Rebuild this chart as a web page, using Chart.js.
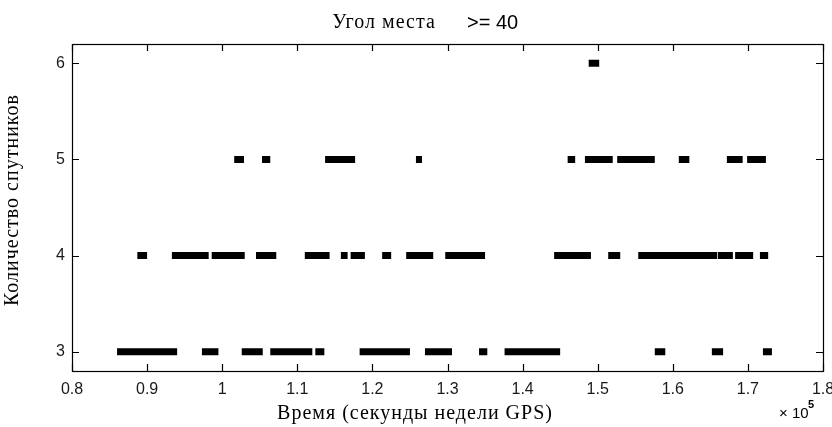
<!DOCTYPE html>
<html>
<head>
<meta charset="utf-8">
<script src="https://cdn.jsdelivr.net/npm/chart.js@4/dist/chart.umd.min.js"></script>
<style>
html,body{margin:0;padding:0;background:#fff;}
canvas{display:block;}
</style>
</head>
<body>
<canvas id="c" width="832" height="427"></canvas>
<script>
// Tick values / labels
const xTickValues = [80000, 90000, 100000, 110000, 120000, 130000, 140000, 150000, 160000, 170000, 180000];
const xTickLabels = ['0.8', '0.9', '1', '1.1', '1.2', '1.3', '1.4', '1.5', '1.6', '1.7', '1.8'];
const yTickValues = [3, 4, 5, 6];
const yTickLabels = ['3', '4', '5', '6'];

// Runs of observations (GPS week seconds) for each satellite count
const level3Start = [86000, 97300, 102600, 106400, 112400, 118300, 127000, 134200, 137600, 157600, 165200, 172000];
const level3End   = [94000, 99500, 105400, 112000, 113600, 125000, 130600, 135300, 145000, 159000, 166700, 173200];

const level4Start = [88700, 93300, 98600, 104500, 111000, 115800, 117100, 121300, 124500, 129700, 144200, 151400, 155400, 166000, 168300, 171600];
const level4End   = [90000, 98200, 103000, 107200, 114300, 116700, 119000, 122500, 128100, 135000, 149100, 153000, 165900, 168000, 170700, 172700];

const level5Start = [101600, 105300, 113700, 125800, 146000, 148300, 152600, 160800, 167200, 169900];
const level5End   = [102900, 106400, 117700, 126600, 147000, 152000, 157600, 162200, 169300, 172400];

const level6Start = [148800];
const level6End   = [150200];

const titleText = 'Угол места';
const titleSuffix = '>= 40';
const xTitle = 'Время (секунды недели GPS)';
const yTitle = 'Количество спутников';

function runs(level, starts, ends) {
  const pts = [];
  for (let i = 0; i < starts.length; i++) {
    pts.push({x: starts[i], y: level});
    pts.push({x: ends[i], y: level});
    pts.push({x: ends[i] + 1, y: null});
  }
  return pts;
}

function ds(level, s, e) {
  return {
    data: runs(level, s, e),
    borderColor: '#000',
    backgroundColor: '#000',
    borderWidth: 7,
    borderCapStyle: 'butt',
    pointRadius: 0,
    spanGaps: false,
    tension: 0
  };
}

const framePlugin = {
  id: 'frame',
  beforeDraw(chart) {
    const ctx = chart.ctx;
    ctx.save();
    ctx.fillStyle = '#fff';
    ctx.fillRect(0, 0, chart.width, chart.height);
    ctx.restore();
  },
  afterDraw(chart) {
    const ctx = chart.ctx;
    const a = chart.chartArea;
    const xs = chart.scales.x, ys = chart.scales.y;
    ctx.save();
    ctx.strokeStyle = '#000';
    ctx.lineWidth = 1.2;
    ctx.strokeRect(a.left + 0.5, a.top + 0.5, a.right - a.left, a.bottom - a.top);
    ctx.beginPath();
    const tl = 7;
    xTickValues.forEach(v => {
      const px = Math.round(xs.getPixelForValue(v)) + 0.5;
      ctx.moveTo(px, a.bottom); ctx.lineTo(px, a.bottom - tl);
      ctx.moveTo(px, a.top); ctx.lineTo(px, a.top + tl);
    });
    yTickValues.forEach(v => {
      const py = Math.round(ys.getPixelForValue(v)) + 0.5;
      ctx.moveTo(a.left, py); ctx.lineTo(a.left + tl, py);
      ctx.moveTo(a.right, py); ctx.lineTo(a.right - tl, py);
    });
    ctx.stroke();

    ctx.fillStyle = '#000';
    ctx.textBaseline = 'middle';

    // Title
    ctx.textAlign = 'center';
    ctx.font = '20px "Liberation Serif", serif';
    ctx.letterSpacing = '1px';
    ctx.fillText(titleText, 384, 23);
    ctx.letterSpacing = '0px';
    ctx.textAlign = 'left';
    ctx.font = '20px "Liberation Sans", sans-serif';
    ctx.fillText(titleSuffix, 467, 23);

    // X title
    ctx.textAlign = 'center';
    ctx.font = '20px "Liberation Serif", serif';
    ctx.letterSpacing = '1px';
    ctx.fillText(xTitle, 415, 414);

    // Y title
    ctx.save();
    ctx.translate(13, 200);
    ctx.rotate(-Math.PI / 2);
    ctx.fillText(yTitle, 0, 0);
    ctx.restore();
    ctx.letterSpacing = '0px';

    // Exponent
    ctx.textAlign = 'left';
    ctx.font = '15px "Liberation Sans", sans-serif';
    ctx.fillText('\u00d7 10', 779, 414);
    ctx.font = 'bold 11px "Liberation Sans", sans-serif';
    ctx.fillText('5', 808, 405);
    ctx.restore();
  }
};

new Chart(document.getElementById('c'), {
  type: 'line',
  data: {
    datasets: [
      ds(3, level3Start, level3End),
      ds(4, level4Start, level4End),
      ds(5, level5Start, level5End),
      ds(6, level6Start, level6End)
    ]
  },
  options: {
    responsive: false,
    animation: false,
    devicePixelRatio: 1,
    layout: {padding: {left: 0, top: 44, right: 9, bottom: 0}},
    plugins: {legend: {display: false}, title: {display: false}, tooltip: {enabled: false}},
    scales: {
      x: {
        type: 'linear',
        min: 80000,
        max: 180000,
        afterBuildTicks(s) { s.ticks = xTickValues.map(v => ({value: v})); },
        afterFit(s) { s.height = 56; s.paddingLeft = 0; s.paddingRight = 0; },
        ticks: {
          maxRotation: 0,
          autoSkip: false,
          padding: 9,
          color: '#1a1a1a',
          font: {family: '"Liberation Sans", Arial, sans-serif', size: 16},
          callback: (v) => xTickLabels[xTickValues.indexOf(v)]
        },
        grid: {display: false, drawTicks: false},
        border: {display: false}
      },
      y: {
        type: 'linear',
        min: 2.8,
        max: 6.2,
        afterBuildTicks(s) { s.ticks = yTickValues.map(v => ({value: v})); },
        afterFit(s) { s.width = 72; s.paddingTop = 0; s.paddingBottom = 0; },
        ticks: {
          padding: 7,
          color: '#1a1a1a',
          font: {family: '"Liberation Sans", Arial, sans-serif', size: 16},
          callback: (v) => yTickLabels[yTickValues.indexOf(v)]
        },
        grid: {display: false, drawTicks: false},
        border: {display: false}
      }
    }
  },
  plugins: [framePlugin]
});
</script>
</body>
</html>
